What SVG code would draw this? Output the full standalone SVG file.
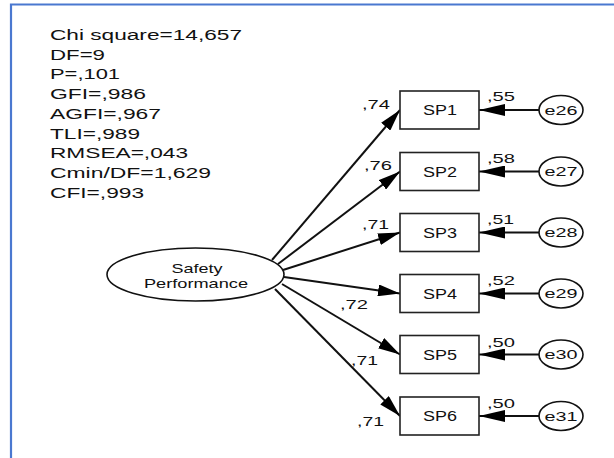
<svg xmlns="http://www.w3.org/2000/svg" width="614" height="458" viewBox="0 0 614 458">
<defs>
<marker id="ah" markerUnits="userSpaceOnUse" markerWidth="24" markerHeight="12" refX="22" refY="6" orient="auto">
<path d="M0,0 L22,6 L0,12 Z" fill="#000"/>
</marker>
<marker id="ahe" markerUnits="userSpaceOnUse" markerWidth="28" markerHeight="12" refX="26" refY="6" orient="auto">
<path d="M0,0 L26,6 L0,12 Z" fill="#000"/>
</marker>
<style>
text{font-family:"Liberation Sans",Arial,sans-serif;fill:#111}
.st{font-size:15.5px}
.lb{font-size:13.5px}
.nm{font-size:13px}
.box{fill:#fff;stroke:#222;stroke-width:1.6}
.el{fill:#fff;stroke:#111;stroke-width:1.6}
.ld{stroke:#111;stroke-width:2;fill:none;marker-end:url(#ah)}
.er{stroke:#111;stroke-width:2;fill:none;marker-end:url(#ahe)}
.mid{text-anchor:middle}
</style>
</defs>
<rect width="614" height="458" fill="#fff"/>
<path d="M11,460 V4.5 H616" fill="none" stroke="#4a78d0" stroke-width="2.2"/>
<g id="stats" class="st">
<text x="50" y="40" textLength="192" lengthAdjust="spacingAndGlyphs">Chi square=14,657</text>
<text x="50" y="59.5" textLength="55" lengthAdjust="spacingAndGlyphs">DF=9</text>
<text x="50" y="79.2" textLength="70" lengthAdjust="spacingAndGlyphs">P=,101</text>
<text x="50" y="99" textLength="96" lengthAdjust="spacingAndGlyphs">GFI=,986</text>
<text x="50" y="118.8" textLength="111" lengthAdjust="spacingAndGlyphs">AGFI=,967</text>
<text x="50" y="138.5" textLength="90" lengthAdjust="spacingAndGlyphs">TLI=,989</text>
<text x="50" y="158.2" textLength="138" lengthAdjust="spacingAndGlyphs">RMSEA=,043</text>
<text x="50" y="177.8" textLength="161" lengthAdjust="spacingAndGlyphs">Cmin/DF=1,629</text>
<text x="50" y="197.5" textLength="94" lengthAdjust="spacingAndGlyphs">CFI=,993</text>
</g>
<g id="connectors">
<path class="ld" d="M272,260 L400,110"/>
<path class="ld" d="M278,264 L400,171.5"/>
<path class="ld" d="M283,270 L400,232.5"/>
<path class="ld" d="M284,277 L400,293.5"/>
<path class="ld" d="M282,284 L400,354.5"/>
<path class="ld" d="M275,289 L400,416"/>
<path class="er" d="M539,110 L479,110"/>
<path class="er" d="M539,171.5 L479,171.5"/>
<path class="er" d="M539,232.5 L479,232.5"/>
<path class="er" d="M539,293.5 L479,293.5"/>
<path class="er" d="M539,354.5 L479,354.5"/>
<path class="er" d="M539,416 L479,416"/>
</g>
<g id="safety">
<ellipse class="el" cx="195.5" cy="274.5" rx="88.5" ry="26.5"/>
<text class="nm mid" x="197" y="272.5" textLength="51" lengthAdjust="spacingAndGlyphs">Safety</text>
<text class="nm mid" x="196" y="287.5" textLength="104" lengthAdjust="spacingAndGlyphs">Performance</text>
</g>
<g id="SP1"><rect class="box" x="400" y="91" width="79" height="38"/><text class="mid" style="font-size:14px" x="440" y="115" textLength="34" lengthAdjust="spacingAndGlyphs">SP1</text></g>
<g id="SP2"><rect class="box" x="400" y="152.5" width="79" height="38"/><text class="mid" style="font-size:14px" x="440" y="176.5" textLength="34" lengthAdjust="spacingAndGlyphs">SP2</text></g>
<g id="SP3"><rect class="box" x="400" y="213.5" width="79" height="38"/><text class="mid" style="font-size:14px" x="440" y="237.5" textLength="34" lengthAdjust="spacingAndGlyphs">SP3</text></g>
<g id="SP4"><rect class="box" x="400" y="274.5" width="79" height="38"/><text class="mid" style="font-size:14px" x="440" y="298.5" textLength="34" lengthAdjust="spacingAndGlyphs">SP4</text></g>
<g id="SP5"><rect class="box" x="400" y="335.5" width="79" height="38"/><text class="mid" style="font-size:14px" x="440" y="359.5" textLength="34" lengthAdjust="spacingAndGlyphs">SP5</text></g>
<g id="SP6"><rect class="box" x="400" y="397" width="79" height="38"/><text class="mid" style="font-size:14px" x="440" y="421" textLength="34" lengthAdjust="spacingAndGlyphs">SP6</text></g>
<g id="e26"><ellipse class="el" cx="561" cy="110" rx="22" ry="14.5"/><text class="nm mid" x="561" y="114.5" textLength="33" lengthAdjust="spacingAndGlyphs">e26</text></g>
<g id="e27"><ellipse class="el" cx="561" cy="171.5" rx="22" ry="14.5"/><text class="nm mid" x="561" y="176" textLength="33" lengthAdjust="spacingAndGlyphs">e27</text></g>
<g id="e28"><ellipse class="el" cx="561" cy="232.5" rx="22" ry="14.5"/><text class="nm mid" x="561" y="237" textLength="33" lengthAdjust="spacingAndGlyphs">e28</text></g>
<g id="e29"><ellipse class="el" cx="561" cy="293.5" rx="22" ry="14.5"/><text class="nm mid" x="561" y="298" textLength="33" lengthAdjust="spacingAndGlyphs">e29</text></g>
<g id="e30"><ellipse class="el" cx="561" cy="354.5" rx="22" ry="14.5"/><text class="nm mid" x="561" y="359" textLength="33" lengthAdjust="spacingAndGlyphs">e30</text></g>
<g id="e31"><ellipse class="el" cx="561" cy="416" rx="22" ry="14.5"/><text class="nm mid" x="561" y="420.5" textLength="33" lengthAdjust="spacingAndGlyphs">e31</text></g>
<g id="labels" class="lb">
<text x="362" y="108.5" textLength="28" lengthAdjust="spacingAndGlyphs">,74</text>
<text x="364" y="169.5" textLength="28" lengthAdjust="spacingAndGlyphs">,76</text>
<text x="362" y="228.5" textLength="27" lengthAdjust="spacingAndGlyphs">,71</text>
<text x="340" y="308.5" textLength="28" lengthAdjust="spacingAndGlyphs">,72</text>
<text x="351" y="364.5" textLength="27" lengthAdjust="spacingAndGlyphs">,71</text>
<text x="357" y="425.5" textLength="27" lengthAdjust="spacingAndGlyphs">,71</text>
<text x="487" y="101" textLength="28" lengthAdjust="spacingAndGlyphs">,55</text>
<text x="487" y="162.5" textLength="28" lengthAdjust="spacingAndGlyphs">,58</text>
<text x="487" y="223.5" textLength="27" lengthAdjust="spacingAndGlyphs">,51</text>
<text x="487" y="284.5" textLength="28" lengthAdjust="spacingAndGlyphs">,52</text>
<text x="487" y="346.5" textLength="28" lengthAdjust="spacingAndGlyphs">,50</text>
<text x="487" y="407.5" textLength="28" lengthAdjust="spacingAndGlyphs">,50</text>
</g>
</svg>
